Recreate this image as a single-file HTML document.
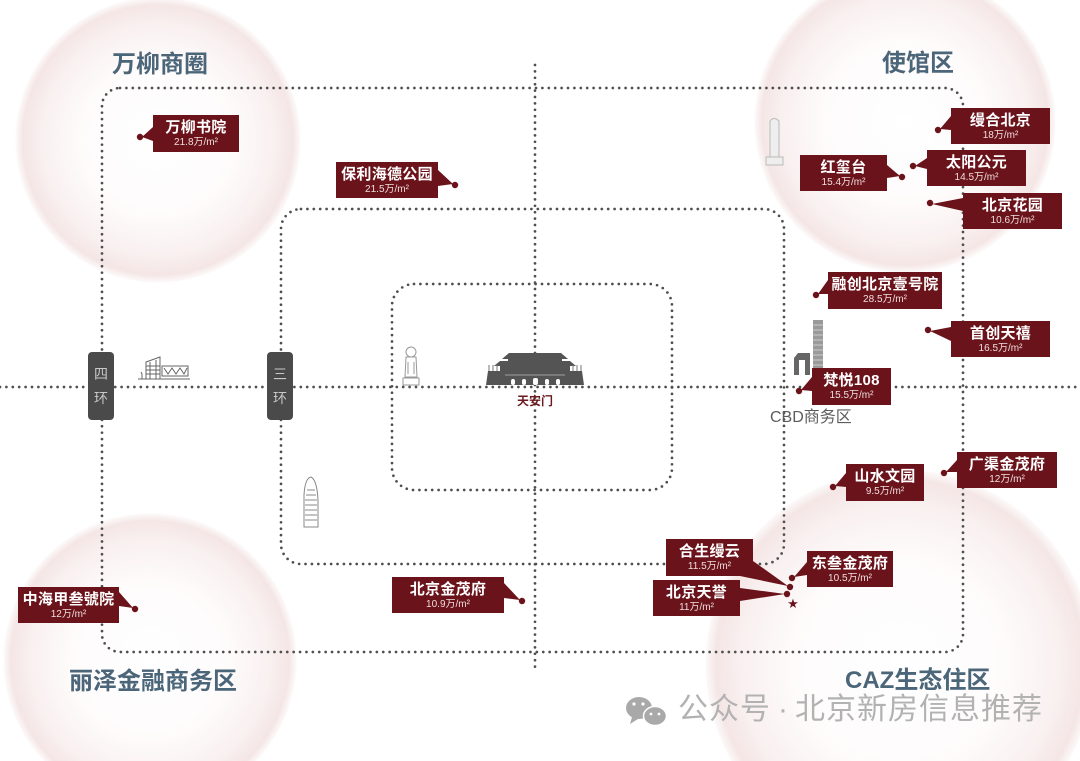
<!DOCTYPE html>
<html><head><meta charset="utf-8"><style>
html,body{margin:0;padding:0;background:#fff;width:1080px;height:761px;overflow:hidden;}
#c{position:relative;width:1080px;height:761px;overflow:hidden;font-family:"Liberation Sans","Noto Sans CJK SC",sans-serif;
background:
radial-gradient(circle 142px at 158px 140px,#ffffff 0,#fefbfb 78px,#f9f0f0 116px,#f4e6e5 135px,rgba(247,237,237,0.35) 142px,rgba(255,255,255,0) 143px),
radial-gradient(circle 150px at 905px 122px,#ffffff 0,#fefbfb 82px,#f9f0f0 123px,#f4e6e5 143px,rgba(247,237,237,0.35) 150px,rgba(255,255,255,0) 151px),
radial-gradient(circle 146px at 150px 660px,#ffffff 0,#fefbfb 80px,#f9f0f0 120px,#f4e6e5 139px,rgba(247,237,237,0.35) 146px,rgba(255,255,255,0) 147px),
radial-gradient(circle 194px at 900px 664px,#ffffff 0,#fefbfb 107px,#f9f0f0 159px,#f4e6e5 184px,rgba(247,237,237,0.35) 194px,rgba(255,255,255,0) 195px),
#fff;}
svg{position:absolute;left:0;top:0;overflow:hidden;}
.lb{position:absolute;background:#6b131b;color:#fff;text-align:center;}
.lb b{display:block;font-size:15px;line-height:17px;margin-top:4px;font-weight:bold;letter-spacing:0.3px;white-space:nowrap;}
.lb i{display:block;font-style:normal;font-size:10px;line-height:12px;margin-top:1px;color:#eedede;white-space:nowrap;}
.rt{position:absolute;font-size:24px;line-height:24px;font-weight:bold;color:#4b6579;white-space:nowrap;}
.ring{position:absolute;width:26px;height:68px;background:#4a4a4a;border-radius:4px;color:#c9c9c9;font-size:14px;text-align:center;}
.ring span{position:absolute;left:0;width:26px;line-height:16px;}
</style></head><body><div id="c">
<svg width="1080" height="761" viewBox="0 0 1080 761">
<g fill="none" stroke="#4f4f4f" stroke-width="2.7" stroke-linecap="round" stroke-dasharray="0 6.4">
<path d="M0 387 H1080"/>
<path d="M535 65 V673"/>
<path d="M120 88 H945 A18 18 0 0 1 963 106 V634 A18 18 0 0 1 945 652 H120 A18 18 0 0 1 102 634 V106 A18 18 0 0 1 120 88 Z"/>
<path d="M301 209 H764 A20 20 0 0 1 784 229 V544 A20 20 0 0 1 764 564 H301 A20 20 0 0 1 281 544 V229 A20 20 0 0 1 301 209 Z"/>
<path d="M414 284 H650 A22 22 0 0 1 672 306 V468 A22 22 0 0 1 650 490 H414 A22 22 0 0 1 392 468 V306 A22 22 0 0 1 414 284 Z"/>
</g>

<!-- museum icon -->
<g fill="none" stroke="#666" stroke-width="1">
<path d="M138 379 H190"/>
<path d="M146 379 V362 L160 357 V379"/>
<path d="M146 366 H160 M146 370 H160 M146 374 H160"/>
<path d="M150 362 V379 M156 360 V379"/>
<path d="M162 366 H188 V376 H162 Z"/>
<path d="M164 368 L168 374 L172 368 L176 374 L180 368 L184 374 L187 368"/>
<path d="M142 379 V374 L141 372"/>
</g>
<!-- lower-left tower -->
<g fill="none" stroke="#888" stroke-width="1">
<path d="M304 527 V495 Q305 478 311 477 Q317 480 318 500 V527 Z"/>
<path d="M305 500 H317 M305 505 H317 M305 510 H317 M305 515 H317 M305 520 H317 M306 495 H316 M307 490 H315"/>
</g>
<!-- monument -->
<g fill="none" stroke="#999" stroke-width="1">
<circle cx="411" cy="352" r="5"/>
<path d="M406 357 H416 L417 377 H405 Z"/>
<path d="M408 362 V374 M414 362 V374"/>
<path d="M403 378 H419 V385 H403 Z"/>
</g>
<!-- Tiananmen -->
<g fill="#545454">
<polygon points="486,385 584,385 582,371 488,371"/>
<rect x="500" y="365" width="70" height="6"/>
<polygon points="494,366 576,366 570,361 500,361"/>
<rect x="508" y="357" width="54" height="4"/>
<polygon points="502,359 568,359 561,353 509,353"/>
</g>
<g fill="#fff">
<rect x="511" y="379" width="4" height="6" rx="2"/>
<rect x="522" y="379" width="4" height="6" rx="2"/>
<rect x="533" y="378" width="5" height="7" rx="2"/>
<rect x="545" y="379" width="4" height="6" rx="2"/>
<rect x="556" y="379" width="4" height="6" rx="2"/>
</g>
<path d="M505 375 H565" stroke="#bbb" stroke-width="0.8"/>
<g stroke="#777" stroke-width="1">
<path d="M489 365 V371 M493 365 V371 M497 365 V371 M573 365 V371 M577 365 V371 M581 365 V371"/>
</g>
<!-- top-right tower -->
<g fill="#eee" stroke="#bbb" stroke-width="1">
<path d="M770 158 V121 Q774 116 779 121 V158 Z"/>
<path d="M766 157 H783 V165 H766 Z"/>
</g>
<!-- CCTV -->
<g>
<rect x="813" y="320" width="10" height="53" fill="#9a9a9a"/>
<path d="M813 325 H823 M813 330 H823 M813 335 H823 M813 340 H823 M813 345 H823 M813 350 H823 M813 355 H823 M813 360 H823 M813 365 H823" stroke="#ddd" stroke-width="0.7"/>
<path d="M794 375 V358 L798 353 H810 V375 H805 V360 H799 V375 Z" fill="#666"/>
</g>

<!-- tails and dots -->
<g fill="#6b131b">
<polygon points="153,127 153,141 142,137"/><circle cx="140" cy="137" r="3.2"/>
<polygon points="438,170 453,184 438,186"/><circle cx="455" cy="185" r="3.2"/>
<polygon points="951,116 951,130 940,129"/><circle cx="938" cy="130" r="3.2"/>
<polygon points="887,165 900,176 887,178"/><circle cx="902" cy="177" r="3.2"/>
<polygon points="927,158 915,166 927,169"/><circle cx="913" cy="166" r="3.2"/>
<polygon points="963,198 932,204 963,211"/><circle cx="930" cy="203" r="3.2"/>
<polygon points="828,280 818,294 828,294"/><circle cx="816" cy="295" r="3.2"/>
<polygon points="951,327 930,331 951,341"/><circle cx="928" cy="330" r="3.2"/>
<polygon points="812,377 801,390 812,391"/><circle cx="799" cy="391" r="3.2"/>
<polygon points="846,473 835,486 846,487"/><circle cx="833" cy="487" r="3.2"/>
<polygon points="957,460 946,472 957,472"/><circle cx="944" cy="473" r="3.2"/>
<polygon points="753,561 788,586 740,576"/><circle cx="790" cy="587" r="3.2"/>
<polygon points="740,588 785,594 740,601"/><circle cx="787" cy="594" r="3.2"/>
<polygon points="807,562 794,577 807,575"/><circle cx="792" cy="578" r="3.2"/>
<polygon points="504,583 520,600 504,598"/><circle cx="522" cy="601" r="3.2"/>
<polygon points="119,592 133,608 119,606"/><circle cx="135" cy="609" r="3.2"/>
</g>
<text x="793" y="608" font-size="13" fill="#6b131b" text-anchor="middle" font-family="DejaVu Sans, sans-serif">★</text>

<!-- wechat icon -->
<g>
<ellipse cx="639" cy="708" rx="13" ry="11" fill="#a9a9a9"/>
<ellipse cx="655" cy="716" rx="11.5" ry="9.5" fill="#a9a9a9" stroke="#fff" stroke-width="1.5"/>
<circle cx="634" cy="704" r="1.6" fill="#fff"/><circle cx="643" cy="704" r="1.6" fill="#fff"/>
<circle cx="651" cy="714" r="1.4" fill="#fff"/><circle cx="659" cy="714" r="1.4" fill="#fff"/>
<polygon points="632,717 630,724 638,719" fill="#a9a9a9"/>
</g>
</svg>

<div class="rt" style="left:112px;top:53px;">万柳商圈</div>
<div class="rt" style="left:882px;top:52px;">使馆区</div>
<div class="rt" style="left:69px;top:670px;">丽泽金融商务区</div>
<div class="rt" style="left:845px;top:669px;">CAZ生态住区</div>

<div class="ring" style="left:88px;top:352px;"><span style="top:14px">四</span><span style="top:38px">环</span></div>
<div class="ring" style="left:267px;top:352px;"><span style="top:14px">三</span><span style="top:38px">环</span></div>

<div style="position:absolute;left:505px;top:394px;width:60px;text-align:center;font-size:12px;line-height:14px;font-weight:bold;color:#6b1a22;">天安门</div>
<div style="position:absolute;left:770px;top:408px;font-size:16px;line-height:20px;color:#5c5c5c;white-space:nowrap;">CBD商务区</div>

<div class="lb" style="left:153px;top:115px;width:86px;height:37px"><b>万柳书院</b><i>21.8万/m²</i></div>
<div class="lb" style="left:336px;top:162px;width:102px;height:36px"><b>保利海德公园</b><i>21.5万/m²</i></div>
<div class="lb" style="left:951px;top:108px;width:99px;height:36px"><b>缦合北京</b><i>18万/m²</i></div>
<div class="lb" style="left:800px;top:155px;width:87px;height:36px"><b>红玺台</b><i>15.4万/m²</i></div>
<div class="lb" style="left:927px;top:150px;width:99px;height:36px"><b>太阳公元</b><i>14.5万/m²</i></div>
<div class="lb" style="left:963px;top:193px;width:99px;height:36px"><b>北京花园</b><i>10.6万/m²</i></div>
<div class="lb" style="left:828px;top:272px;width:114px;height:37px"><b>融创北京壹号院</b><i>28.5万/m²</i></div>
<div class="lb" style="left:951px;top:321px;width:99px;height:36px"><b>首创天禧</b><i>16.5万/m²</i></div>
<div class="lb" style="left:812px;top:368px;width:79px;height:37px"><b>梵悦108</b><i>15.5万/m²</i></div>
<div class="lb" style="left:846px;top:464px;width:78px;height:37px"><b>山水文园</b><i>9.5万/m²</i></div>
<div class="lb" style="left:957px;top:452px;width:100px;height:36px"><b>广渠金茂府</b><i>12万/m²</i></div>
<div class="lb" style="left:666px;top:539px;width:87px;height:37px"><b>合生缦云</b><i>11.5万/m²</i></div>
<div class="lb" style="left:653px;top:580px;width:87px;height:36px"><b>北京天誉</b><i>11万/m²</i></div>
<div class="lb" style="left:807px;top:551px;width:86px;height:36px"><b>东叁金茂府</b><i>10.5万/m²</i></div>
<div class="lb" style="left:392px;top:577px;width:112px;height:36px"><b>北京金茂府</b><i>10.9万/m²</i></div>
<div class="lb" style="left:18px;top:587px;width:101px;height:36px"><b>中海甲叁號院</b><i>12万/m²</i></div>

<div style="position:absolute;left:678px;top:694px;font-size:30px;line-height:32px;color:#b2b2b2;white-space:nowrap;letter-spacing:1px;">公众号</div>
<div style="position:absolute;left:778px;top:694px;font-size:30px;line-height:32px;color:#b2b2b2;">·</div>
<div style="position:absolute;left:795px;top:694px;font-size:30px;line-height:32px;color:#b2b2b2;white-space:nowrap;letter-spacing:1px;">北京新房信息推荐</div>
</div></body></html>
